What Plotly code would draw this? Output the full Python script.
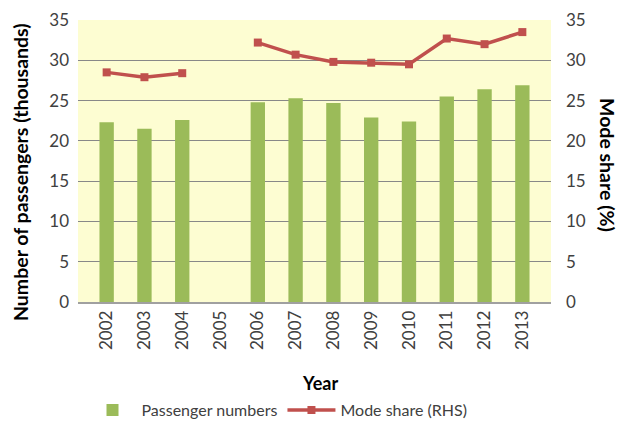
import plotly.graph_objects as go

years = ["2002", "2003", "2004", "2005", "2006", "2007", "2008", "2009", "2010", "2011", "2012", "2013"]
passengers = [22.3, 21.5, 22.6, None, 24.8, 25.3, 24.7, 22.9, 22.4, 25.5, 26.4, 26.9]
mode_share = [28.5, 27.9, 28.4, None, 32.2, 30.7, 29.8, 29.7, 29.5, 32.7, 32.0, 33.5]
y_ticks = [0, 5, 10, 15, 20, 25, 30, 35]

FONT = "Lato, 'Noto Sans', sans-serif"
TXT = "#404040"

fig = go.Figure()
fig.add_trace(go.Bar(x=years, y=passengers, name="Passenger numbers",
                     marker=dict(color="#9BBB59", line=dict(width=0)), yaxis="y"))
fig.add_trace(go.Scatter(x=years, y=mode_share, name="Mode share (RHS)", mode="lines+markers",
                         line=dict(color="#C0504D", width=3.5),
                         marker=dict(symbol="square", size=8, color="#C0504D"),
                         connectgaps=False, yaxis="y2"))

W, H = 619, 423
L, R, T, B = 78, 551, 20, 302

def px(x):
    return (x - L) / (R - L)

def py(y):
    return (B - y) / (B - T)

fig.update_layout(
    width=W, height=H,
    margin=dict(l=L, r=W - R, t=T, b=H - B, autoexpand=False),
    paper_bgcolor="white",
    plot_bgcolor="#FDFDD2",
    font=dict(family=FONT, size=16, color=TXT),
    bargap=0.62,
    showlegend=True,
    legend=dict(orientation="h", xref="container", yref="container",
                x=278 / W, xanchor="center", y=(H - 410) / H, yanchor="middle",
                font=dict(size=16, color=TXT), itemwidth=48, traceorder="normal"),
    xaxis=dict(type="category", tickangle=-90, showgrid=False, showline=True, automargin=False,
               linecolor="#A0A0A0", linewidth=1.5, ticks="", tickfont=dict(size=17, color=TXT)),
    yaxis=dict(range=[0, 35], tickvals=y_ticks, showgrid=True, gridcolor="#888888", gridwidth=1.2,
               automargin=False, zeroline=False, showline=False, ticks="",
               tickfont=dict(size=17, color=TXT), ticklabelstandoff=8),
    yaxis2=dict(range=[0, 35], tickvals=y_ticks, overlaying="y", side="right", showgrid=False,
                automargin=False, zeroline=False, showline=False, ticks="",
                tickfont=dict(size=17, color=TXT), ticklabelstandoff=14),
    annotations=[
        dict(text="<b>Number of passengers (thousands)</b>", textangle=-90, xref="paper", yref="paper",
             x=px(20), y=py(172), xanchor="center", yanchor="middle", showarrow=False,
             font=dict(size=19.5, color="#000")),
        dict(text="<b>Mode share (%)</b>", textangle=90, xref="paper", yref="paper",
             x=px(608), y=py(165), xanchor="center", yanchor="middle", showarrow=False,
             font=dict(size=19.5, color="#000")),
        dict(text="<b>Year</b>", xref="paper", yref="paper",
             x=px(320), y=py(383), xanchor="center", yanchor="middle", showarrow=False,
             font=dict(size=18, color="#000")),
    ],
)

fig.write_html("out.html", config={"displayModeBar": False},
               post_script="document.body.style.margin='0';")
